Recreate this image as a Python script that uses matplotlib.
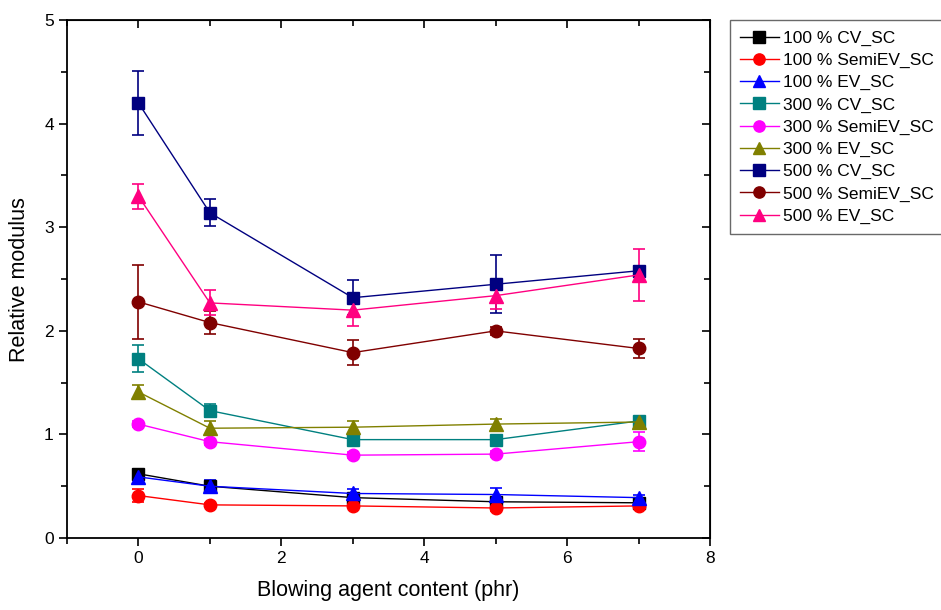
import matplotlib
matplotlib.use("Agg")
from matplotlib import pyplot as plt
from matplotlib.lines import Line2D
from matplotlib.ticker import MultipleLocator

plt.rcParams['font.family'] = ['Liberation Sans', 'DejaVu Sans']

# blowing agent content (phr)
x = [0, 1, 3, 5, 7]

labels = ["100 % CV_SC", "100 % SemiEV_SC", "100 % EV_SC",
          "300 % CV_SC", "300 % SemiEV_SC", "300 % EV_SC",
          "500 % CV_SC", "500 % SemiEV_SC", "500 % EV_SC"]

cv100 = [0.62, 0.50, 0.39, 0.35, 0.34]
semi100 = [0.41, 0.32, 0.31, 0.29, 0.31]
ev100 = [0.59, 0.50, 0.43, 0.42, 0.39]
cv300 = [1.73, 1.23, 0.95, 0.95, 1.13]
semi300 = [1.10, 0.93, 0.80, 0.81, 0.93]
ev300 = [1.41, 1.06, 1.07, 1.10, 1.12]
cv500 = [4.20, 3.14, 2.32, 2.45, 2.58]
semi500 = [2.28, 2.08, 1.79, 2.00, 1.83]
ev500 = [3.30, 2.27, 2.20, 2.34, 2.54]

cv100_err = [0.05, 0.03, 0.03, 0.03, 0.03]
semi100_err = [0.06, 0.02, 0.02, 0.03, 0.03]
ev100_err = [0.07, 0.06, 0.04, 0.06, 0.03]
cv300_err = [0.13, 0.06, 0.03, 0.03, 0.04]
semi300_err = [0.03, 0.03, 0.03, 0.03, 0.09]
ev300_err = [0.07, 0.07, 0.06, 0.05, 0.04]
cv500_err = [0.31, 0.13, 0.17, 0.28, 0.05]
semi500_err = [0.36, 0.11, 0.12, 0.04, 0.09]
ev500_err = [0.12, 0.12, 0.15, 0.13, 0.25]

values = [cv100, semi100, ev100, cv300, semi300, ev300, cv500, semi500, ev500]
errors = [cv100_err, semi100_err, ev100_err, cv300_err, semi300_err,
          ev300_err, cv500_err, semi500_err, ev500_err]
colors = ["#000000", "#FF0000", "#0000FF", "#008080", "#FF00FF",
          "#808000", "#000080", "#800000", "#FF0080"]
markers = ["s", "o", "^"] * 3

fig = plt.figure(figsize=(9.41, 6.10), dpi=100)
ax = fig.add_axes([0.0712, 0.118, 0.6833, 0.849])

handles = []
for y, e, c, m, lab in zip(values, errors, colors, markers, labels):
    ms = 10 if m == "^" else 9
    ax.errorbar(x, y, yerr=e, color=c, marker=m, markersize=ms,
                linewidth=1.0, elinewidth=1.2, capsize=4, capthick=1.2)
    # legend entries show line + marker only
    handles.append(Line2D([], [], color=c, marker=m, markersize=ms,
                          linewidth=1.0, label=lab))

ax.set_xlim(-1, 8)
ax.set_ylim(0, 5)
ax.xaxis.set_major_locator(MultipleLocator(2))
ax.xaxis.set_minor_locator(MultipleLocator(1))
ax.yaxis.set_major_locator(MultipleLocator(1))
ax.yaxis.set_minor_locator(MultipleLocator(0.5))

ax.tick_params(which='both', direction='out', labelsize=12.5, width=1.2,
               top=False, right=False)
ax.tick_params(which='major', length=6)
ax.tick_params(which='minor', length=4)
for s in ax.spines.values():
    s.set_linewidth(1.3)

# inward ticks on the top and right sides
sec = ax.secondary_xaxis('top')
sec.xaxis.set_major_locator(MultipleLocator(2))
sec.xaxis.set_minor_locator(MultipleLocator(1))
sec.tick_params(which='both', direction='in', labeltop=False, width=1.2)
sec.tick_params(which='major', length=6)
sec.tick_params(which='minor', length=4)
sec2 = ax.secondary_yaxis('right')
sec2.yaxis.set_major_locator(MultipleLocator(1))
sec2.yaxis.set_minor_locator(MultipleLocator(0.5))
sec2.tick_params(which='both', direction='in', labelright=False, width=1.2)
sec2.tick_params(which='major', length=6)
sec2.tick_params(which='minor', length=4)

ax.set_xlabel("Blowing agent content (phr)", fontsize=15.5, labelpad=10)
ax.set_ylabel("Relative modulus", fontsize=15.5, labelpad=10)

leg = ax.legend(handles=handles, loc='upper left', bbox_to_anchor=(1.031, 1.0),
                borderaxespad=0, fontsize=12.5, frameon=True, fancybox=False,
                edgecolor='#444444', handlelength=2.2, handletextpad=0.25,
                labelspacing=0.4, borderpad=0.6, markerscale=0.9)
leg.get_frame().set_linewidth(1.0)

fig.savefig("out.png", dpi=100)
